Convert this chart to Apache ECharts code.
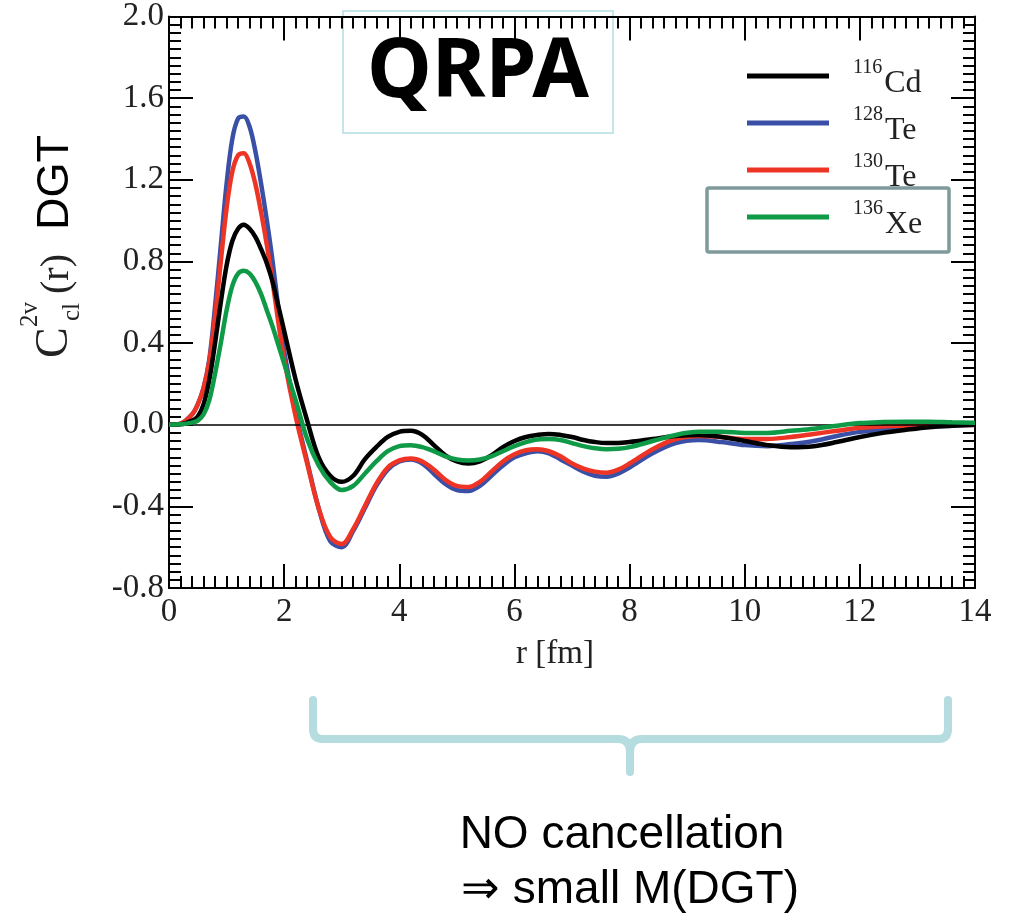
<!DOCTYPE html>
<html>
<head>
<meta charset="utf-8">
<script src="https://cdn.jsdelivr.net/npm/echarts@6/dist/echarts.min.js"></script>
<style>
html,body{margin:0;padding:0;background:#fff;}
#chart{width:1012px;height:922px;}
</style>
</head>
<body>
<div id="chart"></div>
<script>
// r [fm]
const rVals = [0,0.2,0.4,0.5,0.6,0.7,0.8,0.9,1.0,1.1,1.2,1.3,1.4,1.5,1.6,1.7,1.8,1.9,2.0,
  2.2,2.4,2.6,2.8,3.0,3.2,3.4,3.6,3.8,4.0,4.2,4.4,4.6,4.8,5.0,5.2,5.4,5.6,5.8,6.0,6.2,6.4,6.6,6.8,7.0,7.2,7.4,7.6,7.8,8.0,
  8.4,8.8,9.2,9.6,10.0,10.4,10.8,11.2,11.6,12.0,12.4,12.8,13.2,13.6,14.0];

const cd116 = [0,0.002,0.02,0.04,0.1,0.22,0.4,0.6,0.78,0.9,0.96,0.98,0.96,0.92,0.86,0.79,0.7,0.58,0.46,
  0.22,0.02,-0.16,-0.25,-0.28,-0.25,-0.17,-0.11,-0.06,-0.035,-0.03,-0.05,-0.1,-0.15,-0.18,-0.19,-0.18,-0.15,-0.11,-0.08,-0.06,-0.05,-0.045,-0.05,-0.06,-0.075,-0.085,-0.09,-0.09,-0.085,
  -0.07,-0.055,-0.05,-0.06,-0.08,-0.1,-0.11,-0.105,-0.085,-0.06,-0.04,-0.025,-0.012,-0.005,0];

const te128 = [0,0.005,0.05,0.1,0.18,0.32,0.58,0.88,1.18,1.4,1.5,1.51,1.46,1.34,1.18,1.0,0.8,0.57,0.36,
  0.06,-0.18,-0.41,-0.57,-0.6,-0.52,-0.41,-0.3,-0.22,-0.18,-0.17,-0.19,-0.24,-0.29,-0.32,-0.325,-0.3,-0.25,-0.2,-0.16,-0.14,-0.13,-0.14,-0.17,-0.2,-0.23,-0.25,-0.255,-0.24,-0.21,
  -0.14,-0.09,-0.075,-0.085,-0.1,-0.105,-0.095,-0.08,-0.055,-0.035,-0.025,-0.018,-0.01,-0.005,0];

const te130 = [0,0.005,0.05,0.1,0.18,0.31,0.53,0.8,1.06,1.24,1.32,1.33,1.28,1.18,1.04,0.88,0.7,0.5,0.32,
  0.04,-0.19,-0.41,-0.55,-0.585,-0.51,-0.4,-0.29,-0.21,-0.175,-0.165,-0.18,-0.22,-0.27,-0.3,-0.305,-0.28,-0.23,-0.18,-0.145,-0.125,-0.12,-0.13,-0.155,-0.19,-0.215,-0.23,-0.235,-0.22,-0.19,
  -0.12,-0.07,-0.055,-0.06,-0.07,-0.07,-0.06,-0.045,-0.03,-0.015,-0.008,-0.005,-0.003,-0.002,-0.002];

const xe136 = [0,0.002,0.01,0.02,0.05,0.12,0.25,0.4,0.56,0.68,0.74,0.754,0.74,0.7,0.64,0.56,0.48,0.39,0.3,
  0.12,-0.07,-0.2,-0.28,-0.32,-0.3,-0.24,-0.18,-0.13,-0.105,-0.1,-0.11,-0.13,-0.155,-0.17,-0.175,-0.17,-0.155,-0.13,-0.105,-0.085,-0.072,-0.07,-0.075,-0.09,-0.105,-0.115,-0.12,-0.118,-0.11,
  -0.08,-0.05,-0.035,-0.035,-0.04,-0.04,-0.03,-0.02,-0.005,0.008,0.013,0.015,0.015,0.012,0.01];

const seriesNames = ['116Cd','128Te','130Te','136Xe'];
const seriesSup = ['116','128','130','136'];
const seriesMain = ['Cd','Te','Te','Xe'];
const seriesColors = ['#000000','#3a4fa6','#ee3424','#0e9a47'];
const seriesValues = [cd116, te128, te130, xe136];
const seriesZ = [4, 2, 3, 5];

const xTicks = {min:0, max:14, interval:2};
const yTicks = {min:-0.8, max:2.0, interval:0.4};

const chart = echarts.init(document.getElementById('chart'), null, {renderer:'canvas'});

const serif = '"Liberation Serif","Times New Roman",serif';
const sans = '"Liberation Sans",Arial,sans-serif';

function axisCommon(showLabel, isX) {
  return {
    type:'value',
    min: isX ? xTicks.min : yTicks.min,
    max: isX ? xTicks.max : yTicks.max,
    interval: isX ? xTicks.interval : yTicks.interval,
    axisLine:{show:true, onZero:false, lineStyle:{color:'#000', width:2}},
    axisTick:{show:true, inside:true, length:24, lineStyle:{color:'#000', width:2}},
    minorTick:{show:true, splitNumber:10, length:12, lineStyle:{color:'#000', width:2}},
    splitLine:{show:false},
    minorSplitLine:{show:false},
    axisLabel:{
      show: showLabel,
      fontFamily: serif, fontSize: 33, color:'#222',
      margin: isX ? 8 : 5,
      formatter: v => isX ? String(Math.round(v)) : (Math.abs(v) < 1e-9 ? '0.0' : v.toFixed(1))
    }
  };
}

const series = seriesNames.map((name, i) => ({
  name: name,
  type:'line',
  data: rVals.map((r, k) => [r, seriesValues[i][k]]),
  showSymbol:false,
  symbol:'none',
  smooth:0.35,
  z: seriesZ[i],
  lineStyle:{color: seriesColors[i], width:4.5},
  itemStyle:{color: seriesColors[i]},
  emphasis:{disabled:true}
}));
series[1].markLine = {
  silent:true, symbol:['none','none'], label:{show:false},
  lineStyle:{color:'#000', width:1.5, type:'solid'},
  data:[{yAxis:0}]
};

const bracketStyle = {fill:'none', stroke:'#b5dde0', lineWidth:8, lineCap:'round', lineJoin:'round'};

const option = {
  animation:false,
  backgroundColor:'#fff',
  grid:{left:169, right:37, top:14, bottom:334, containLabel:false},
  xAxis:[
    Object.assign(axisCommon(true, true), {position:'bottom',
      name:'r [fm]', nameLocation:'middle', nameGap:50,
      nameTextStyle:{fontFamily:serif, fontSize:33, color:'#222', padding:[0,34,0,0]}}),
    Object.assign(axisCommon(false, true), {position:'top'})
  ],
  yAxis:[
    Object.assign(axisCommon(true, false), {position:'left'}),
    Object.assign(axisCommon(false, false), {position:'right'})
  ],
  legend:{
    orient:'vertical', left:747, top:52.5, padding:0, itemGap:0,
    itemWidth:82, itemHeight:5, icon:'rect',
    selectedMode:false,
    data: seriesNames,
    formatter: name => {
      const i = seriesNames.indexOf(name);
      return '{sup|' + seriesSup[i] + '}{main|' + seriesMain[i] + '}';
    },
    textStyle:{
      fontFamily:serif, color:'#222',
      rich:{
        sup:{fontFamily:serif, fontSize:20, lineHeight:20, padding:[0,2,17,19], color:'#222'},
        main:{fontFamily:serif, fontSize:32, lineHeight:32, padding:[15,0,0,0], color:'#222'}
      }
    }
  },
  graphic:[
    {type:'group', z:100, children:[
      {type:'rect', shape:{x:343, y:11, width:270, height:122},
        style:{fill:'#fff', stroke:'#b3dde1', lineWidth:1.5}},
      {type:'text', x:478, y:74, style:{text:'QRPA', font:'bold 82px "Noto Sans", "Open Sans", sans-serif',
        fill:'#000', align:'center', verticalAlign:'middle'}}
    ]},
    {type:'rect', z:100, shape:{x:707, y:188, width:242, height:64, r:2},
      style:{fill:'none', stroke:'#7e9a9b', lineWidth:3.5}},
    // y-axis name
    {type:'group', x:55, y:358, rotation:Math.PI/2, z:100, children:[
      {type:'text', x:0, y:0, style:{text:'C', font:'46px ' + serif, fill:'#222', align:'left', verticalAlign:'middle'}},
      {type:'text', x:31, y:-25, style:{text:'2v', font:'25px ' + serif, fill:'#222', align:'left', verticalAlign:'middle'}},
      {type:'text', x:37, y:17, style:{text:'cl', font:'25px ' + serif, fill:'#222', align:'left', verticalAlign:'middle'}},
      {type:'text', x:64, y:2, style:{text:'(r)', font:'40px ' + serif, fill:'#222', align:'left', verticalAlign:'middle'}},
      {type:'text', x:128, y:1, style:{text:'DGT', font:'45px ' + sans, fill:'#000', align:'left', verticalAlign:'middle'}}
    ]},
    // bracket
    {type:'group', z:100, children:[
      {type:'line', shape:{x1:313, y1:700, x2:313, y2:729}, style:bracketStyle},
      {type:'bezierCurve', shape:{x1:313, y1:729, cpx1:313, cpy1:739, x2:323, y2:739}, style:bracketStyle},
      {type:'line', shape:{x1:323, y1:739, x2:618, y2:739}, style:bracketStyle},
      {type:'bezierCurve', shape:{x1:618, y1:739, cpx1:630, cpy1:739, x2:630, y2:752}, style:bracketStyle},
      {type:'line', shape:{x1:630, y1:752, x2:630, y2:772}, style:bracketStyle},
      {type:'bezierCurve', shape:{x1:630, y1:752, cpx1:630, cpy1:739, x2:642, y2:739}, style:bracketStyle},
      {type:'line', shape:{x1:642, y1:739, x2:938, y2:739}, style:bracketStyle},
      {type:'bezierCurve', shape:{x1:938, y1:739, cpx1:948, cpy1:739, x2:948, y2:729}, style:bracketStyle},
      {type:'line', shape:{x1:948, y1:729, x2:948, y2:700}, style:bracketStyle}
    ]},
    {type:'text', z:100, x:622, y:835, style:{text:'NO cancellation', font:'46px ' + sans, fill:'#000', align:'center', verticalAlign:'middle'}},
    {type:'text', z:100, x:630, y:890, style:{text:'⇒ small M(DGT)', font:'46px ' + sans, fill:'#000', align:'center', verticalAlign:'middle'}}
  ],
  series: series
};
chart.setOption(option);
</script>
</body>
</html>
